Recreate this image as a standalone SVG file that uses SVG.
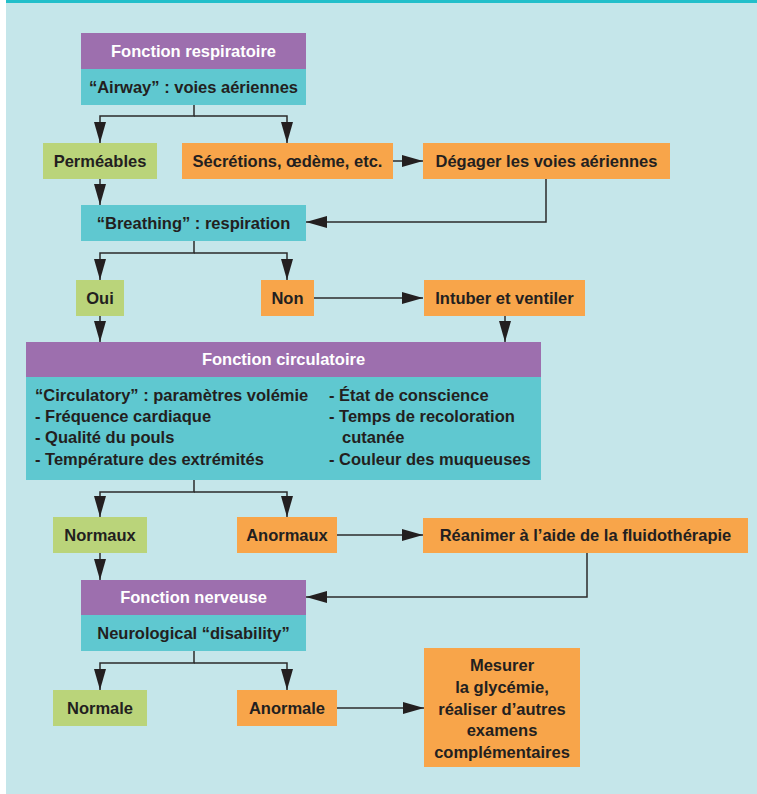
<svg xmlns="http://www.w3.org/2000/svg" width="757" height="794" viewBox="0 0 757 794">
<defs>
<style>
.bg{fill:#c5e6ea}
.pu{fill:#9d6fae}
.te{fill:#5fc8d0}
.gr{fill:#bad47a}
.or{fill:#f8a54a}
text{font-family:"Liberation Sans",Arial,sans-serif;font-weight:bold;font-size:16.5px;fill:#231f20}
.c{text-anchor:middle}
.w{fill:#ffffff}
.ln{fill:none;stroke:#2b2b2b;stroke-width:1.5}
</style>
<marker id="ah" viewBox="0 0 21 12" refX="21" refY="6" markerWidth="21" markerHeight="12" markerUnits="userSpaceOnUse" orient="auto">
<path d="M0,0 L21,6 L0,12 Z" fill="#231f20"/>
</marker>
</defs>
<rect x="0" y="0" width="757" height="794" fill="#ffffff"/>
<rect class="bg" x="6" y="3" width="751" height="791"/>
<rect x="6" y="0" width="751" height="3" fill="#22bfca"/>

<g id="connectors">
<path class="ln" d="M194,105 V116 H100 V143" marker-end="url(#ah)"/>
<path class="ln" d="M194,116 H287 V143" marker-end="url(#ah)"/>
<path class="ln" d="M393,161 H423" marker-end="url(#ah)"/>
<path class="ln" d="M546,179 V222 H306" marker-end="url(#ah)"/>
<path class="ln" d="M100,179 V205" marker-end="url(#ah)"/>
<path class="ln" d="M194,241 V253 H100 V280" marker-end="url(#ah)"/>
<path class="ln" d="M194,253 H287 V280" marker-end="url(#ah)"/>
<path class="ln" d="M314,298 H423" marker-end="url(#ah)"/>
<path class="ln" d="M100,316 V342" marker-end="url(#ah)"/>
<path class="ln" d="M505,316 V342" marker-end="url(#ah)"/>
<path class="ln" d="M194,480 V492 H100 V517" marker-end="url(#ah)"/>
<path class="ln" d="M194,492 H287 V517" marker-end="url(#ah)"/>
<path class="ln" d="M337,535 H423" marker-end="url(#ah)"/>
<path class="ln" d="M587,553 V597 H306" marker-end="url(#ah)"/>
<path class="ln" d="M100,553 V580" marker-end="url(#ah)"/>
<path class="ln" d="M194,651 V663 H100 V690" marker-end="url(#ah)"/>
<path class="ln" d="M194,663 H287 V690" marker-end="url(#ah)"/>
<path class="ln" d="M337,708 H424" marker-end="url(#ah)"/>
</g>

<g id="resp">
<rect class="pu" x="81" y="33" width="225" height="36"/>
<rect class="te" x="81" y="69" width="225" height="36"/>
<text class="c w" x="193.5" y="57">Fonction respiratoire</text>
<text class="c" x="193.5" y="93">“Airway” : voies aériennes</text>
</g>
<g id="permeables">
<rect class="gr" x="43" y="143" width="114" height="36"/>
<text class="c" x="100" y="167">Perméables</text>
</g>
<g id="secretions">
<rect class="or" x="182" y="143" width="211" height="36"/>
<text class="c" x="287.5" y="167">Sécrétions, œdème, etc.</text>
</g>
<g id="degager">
<rect class="or" x="423" y="143" width="247" height="36"/>
<text class="c" x="546.5" y="167">Dégager les voies aériennes</text>
</g>
<g id="breathing">
<rect class="te" x="81" y="205" width="225" height="36"/>
<text class="c" x="193.5" y="229">“Breathing” : respiration</text>
</g>
<g id="oui">
<rect class="gr" x="76" y="280" width="48" height="36"/>
<text class="c" x="100" y="304">Oui</text>
</g>
<g id="non">
<rect class="or" x="261" y="280" width="53" height="36"/>
<text class="c" x="287.5" y="304">Non</text>
</g>
<g id="intuber">
<rect class="or" x="424" y="280" width="161" height="36"/>
<text class="c" x="504.5" y="304">Intuber et ventiler</text>
</g>
<g id="circ">
<rect class="pu" x="26" y="342" width="515" height="35"/>
<rect class="te" x="26" y="377" width="515" height="103"/>
<text class="c w" x="283.5" y="365">Fonction circulatoire</text>
<text x="35" y="401">“Circulatory” : paramètres volémie</text>
<text x="35" y="422">- Fréquence cardiaque</text>
<text x="35" y="443">- Qualité du pouls</text>
<text x="35" y="465">- Température des extrémités</text>
<text x="329" y="401">- État de conscience</text>
<text x="329" y="422">- Temps de recoloration</text>
<text x="342" y="443">cutanée</text>
<text x="329" y="465">- Couleur des muqueuses</text>
</g>
<g id="normaux">
<rect class="gr" x="53" y="517" width="94" height="36"/>
<text class="c" x="100" y="541">Normaux</text>
</g>
<g id="anormaux">
<rect class="or" x="237" y="517" width="100" height="36"/>
<text class="c" x="287" y="541">Anormaux</text>
</g>
<g id="reanimer">
<rect class="or" x="423" y="518" width="325" height="35"/>
<text class="c" x="585.5" y="541">Réanimer à l’aide de la fluidothérapie</text>
</g>
<g id="nerveuse">
<rect class="pu" x="81" y="580" width="225" height="35"/>
<rect class="te" x="81" y="615" width="225" height="36"/>
<text class="c w" x="193.5" y="603">Fonction nerveuse</text>
<text class="c" x="193.5" y="639">Neurological “disability”</text>
</g>
<g id="normale">
<rect class="gr" x="53" y="690" width="94" height="36"/>
<text class="c" x="100" y="714">Normale</text>
</g>
<g id="anormale">
<rect class="or" x="237" y="690" width="100" height="36"/>
<text class="c" x="287" y="714">Anormale</text>
</g>
<g id="mesurer">
<rect class="or" x="424" y="648" width="156" height="119"/>
<text class="c" x="502" y="671">Mesurer</text>
<text class="c" x="502" y="693">la glycémie,</text>
<text class="c" x="502" y="715">réaliser d’autres</text>
<text class="c" x="502" y="736">examens</text>
<text class="c" x="502" y="758">complémentaires</text>
</g>
</svg>
